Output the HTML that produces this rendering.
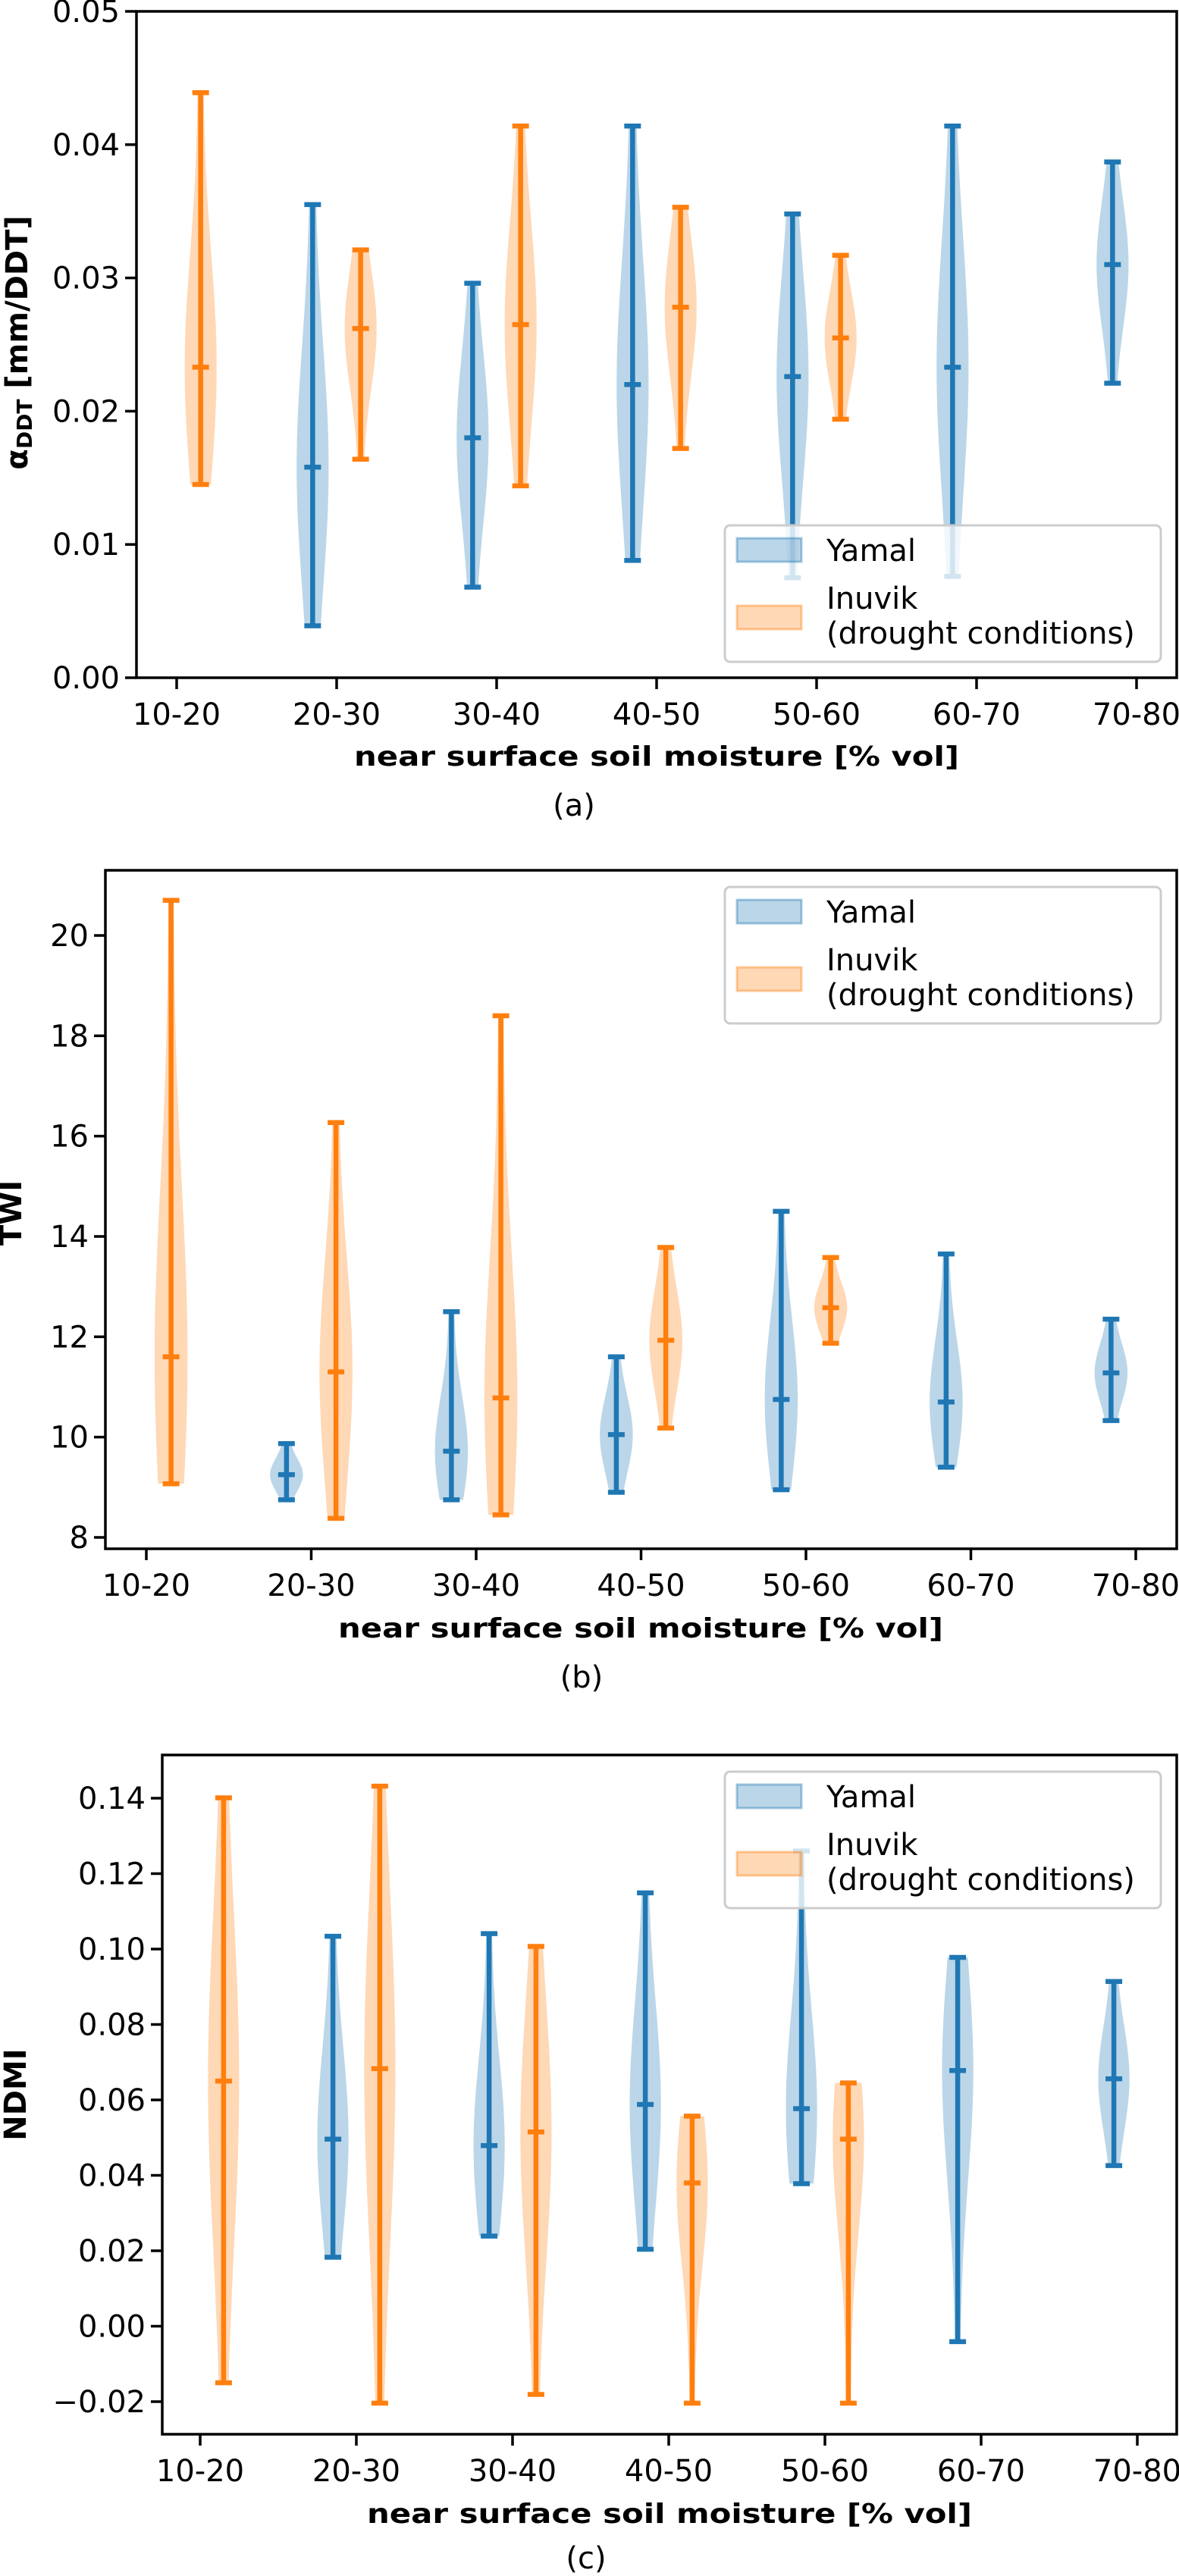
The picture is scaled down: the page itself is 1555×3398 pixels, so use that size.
<!DOCTYPE html>
<html><head><meta charset="utf-8"><style>
html,body{margin:0;padding:0;background:#fff}
svg{display:block}
text{font-family:"DejaVu Sans","Liberation Sans",sans-serif}
</style></head><body>
<svg id="fig" width="1555" height="3398" viewBox="0 0 1555 3398" xmlns="http://www.w3.org/2000/svg"></svg>
<script>
const categories = ["10-20","20-30","30-40","40-50","50-60","60-70","70-80"];
// Panel (a) alpha_DDT : [max, mean, min], null = no data
const aYamal  = [null,[0.0355,0.0158,0.0039],[0.0296,0.0180,0.0068],[0.0414,0.0220,0.0088],[0.0348,0.0226,0.0075],[0.0414,0.0233,0.0076],[0.0387,0.0310,0.0221]];
const aInuvik = [[0.0439,0.0233,0.0145],[0.0321,0.0262,0.0164],[0.0414,0.0265,0.0144],[0.0353,0.0278,0.0172],[0.0317,0.0255,0.0194],null,null];
const aTicks = [0.00,0.01,0.02,0.03,0.04,0.05];
const aTickLabels = ["0.00","0.01","0.02","0.03","0.04","0.05"];
// Panel (b) TWI
const bYamal  = [null,[9.87,9.25,8.75],[12.5,9.72,8.75],[11.6,10.05,8.9],[14.5,10.75,8.95],[13.65,10.7,9.4],[12.35,11.28,10.33]];
const bInuvik = [[20.7,11.6,9.07],[16.27,11.3,8.38],[18.4,10.78,8.45],[13.78,11.93,10.18],[13.58,12.58,11.87],null,null];
const bTicks = [8,10,12,14,16,18,20];
const bTickLabels = ["8","10","12","14","16","18","20"];
// Panel (c) NDMI
const cYamal  = [null,[0.1034,0.0496,0.0183],[0.1041,0.0479,0.0239],[0.1149,0.0588,0.0204],[0.126,0.0577,0.0378],[0.0978,0.0678,-0.0041],[0.0914,0.0656,0.0426]];
const cInuvik = [[0.1401,0.065,-0.015],[0.1432,0.0683,-0.0204],[0.1007,0.0515,-0.0181],[0.0557,0.038,-0.0204],[0.0645,0.0496,-0.0204],null,null];
const cTicks = [-0.02,0.00,0.02,0.04,0.06,0.08,0.10,0.12,0.14];
const cTickLabels = ["\u22120.02","0.00","0.02","0.04","0.06","0.08","0.10","0.12","0.14"];

const NS="http://www.w3.org/2000/svg";
const svg=document.getElementById('fig');
function mk(tag,attrs,parent){const e=document.createElementNS(NS,tag);for(const k in attrs)e.setAttribute(k,attrs[k]);(parent||svg).appendChild(e);return e;}
const BLUE="#1f77b4", ORANGE="#ff7f0e";

function panel(cfg){
  const g=mk('g',{});
  
  
  const L=cfg.left,R=cfg.right,T=cfg.top,B=cfg.bottom;
  const y=v=>cfg.y0px+(v-cfg.v0)*(cfg.y1px-cfg.y0px)/(cfg.v1-cfg.v0);
  const x=i=>cfg.x0px+i*cfg.dx;
  function drawSeries(data,color,off,sname){
    data.forEach((d,i)=>{
      if(!d)return;
      const [mx,mean,mn]=d;
      const cx=x(i)+off*cfg.dx;
      const hw=0.1*cfg.dx;
      const sig=(mx-mn)/3.5;
      const n=40;let left=[],right=[];
      for(let k=0;k<=n;k++){
        const v=mn+(mx-mn)*k/n;
        const w=hw*Math.exp(-0.5*Math.pow((v-mean)/sig,2))*0.85+hw*0.15;
        left.push([cx-w,y(v)]);right.push([cx+w,y(v)]);
      }
      const pts=left.concat(right.reverse()).map(p=>p[0].toFixed(1)+','+p[1].toFixed(1)).join(' ');
      const body=mk('polygon',{points:pts,fill:color,'fill-opacity':0.3,stroke:'none'},g);
      
      
      const ln=mk('line',{x1:cx,x2:cx,y1:y(mx),y2:y(mn),stroke:color,'stroke-width':6.5},g);
      
      
      [mx,mean,mn].forEach(v=>{
        const c=mk('line',{x1:cx-11,x2:cx+11,y1:y(v),y2:y(v),stroke:color,'stroke-width':6.5},g);
        
        
      });
    });
  }
  drawSeries(cfg.yamal,BLUE,-0.15,'yamal');
  drawSeries(cfg.inuvik,ORANGE,0.15,'inuvik');
  const fr=mk('rect',{x:L,y:T,width:R-L,height:B-T,fill:'none',stroke:'#000','stroke-width':3.5},g);
  
  
  cfg.ticks.forEach((v,i)=>{
    mk('line',{x1:L-15,x2:L,y1:y(v),y2:y(v),stroke:'#000','stroke-width':3.5},g);
    const t=mk('text',{x:L-22,y:y(v)+14,'text-anchor':'end','font-size':40,fill:'#000'},g);
    t.textContent=cfg.tickLabels[i];
    
    
  });
  categories.forEach((c,i)=>{
    mk('line',{x1:x(i),x2:x(i),y1:B,y2:B+15,stroke:'#000','stroke-width':3.5},g);
    const t=mk('text',{x:x(i),y:B+62,'text-anchor':'middle','font-size':40,fill:'#000'},g);
    t.textContent=c;
    
    
  });
  const xl=mk('text',{x:cfg.xlabelX,y:cfg.xlabelY,'text-anchor':'middle','font-size':36,'font-weight':'bold',fill:'#000',textLength:798,lengthAdjust:'spacingAndGlyphs'},g);
  xl.textContent='near surface soil moisture [% vol]';
  
  
  const yl=mk('text',{x:0,y:0,'text-anchor':'middle','font-size':40,'font-weight':'bold',fill:'#000',transform:`translate(${cfg.ylabelX},${cfg.ylabelY}) rotate(-90)`},g);
  yl.innerHTML=cfg.ylabel;
  
  
  const cap=mk('text',{x:cfg.capX,y:cfg.capY,'text-anchor':'middle','font-size':40,fill:'#000'},g);
  cap.textContent=cfg.caption;
  
  
  const lg=mk('g',{},g);
  
  
  const ly=cfg.legTop;
  mk('rect',{x:956,y:ly,width:575,height:180,rx:7,fill:'#fff','fill-opacity':0.8,stroke:'#ccc','stroke-width':3},lg);
  const p1=mk('rect',{x:972,y:ly+17,width:85,height:31,fill:BLUE,'fill-opacity':0.3,stroke:BLUE,'stroke-opacity':0.4,'stroke-width':3},lg);
  
  
  const t1=mk('text',{x:1090,y:ly+47,'font-size':40,fill:'#000'},lg);t1.textContent='Yamal';
  const p2=mk('rect',{x:972,y:ly+106,width:85,height:31,fill:ORANGE,'fill-opacity':0.3,stroke:ORANGE,'stroke-opacity':0.4,'stroke-width':3},lg);
  
  
  const t2=mk('text',{x:1090,y:ly+110,'font-size':40,fill:'#000'},lg);t2.textContent='Inuvik';
  const t3=mk('text',{x:1090,y:ly+156,'font-size':40,fill:'#000'},lg);t3.textContent='(drought conditions)';
}

panel({name:'panel-a-alpha-ddt',left:180,right:1552,top:15,bottom:894,
  v0:0,v1:0.05,y0px:894,y1px:15,x0px:233,dx:211,
  yamal:aYamal,inuvik:aInuvik,ticks:aTicks,tickLabels:aTickLabels,
  xlabelX:866,xlabelY:1010,ylabelX:36,ylabelY:452,
  ylabel:'α<tspan font-size="28" dy="6">DDT</tspan><tspan dy="-6"> [mm/DDT]</tspan>',
  capX:757,capY:1076,caption:'(a)',legTop:693});
panel({name:'panel-b-twi',left:139,right:1552,top:1148,bottom:2043,
  v0:8,v1:20,y0px:2028,y1px:1234,x0px:193,dx:217.5,
  yamal:bYamal,inuvik:bInuvik,ticks:bTicks,tickLabels:bTickLabels,
  xlabelX:845,xlabelY:2160,ylabelX:28,ylabelY:1600,ylabel:'TWI',
  capX:767,capY:2226,caption:'(b)',legTop:1170});
panel({name:'panel-c-ndmi',left:214,right:1552,top:2315,bottom:3211,
  v0:-0.02,v1:0.14,y0px:3168,y1px:2372,x0px:264,dx:206,
  yamal:cYamal,inuvik:cInuvik,ticks:cTicks,tickLabels:cTickLabels,
  xlabelX:883,xlabelY:3328,ylabelX:34,ylabelY:2763,ylabel:'NDMI',
  capX:773,capY:3388,caption:'(c)',legTop:2337});
</script>
</body></html>
